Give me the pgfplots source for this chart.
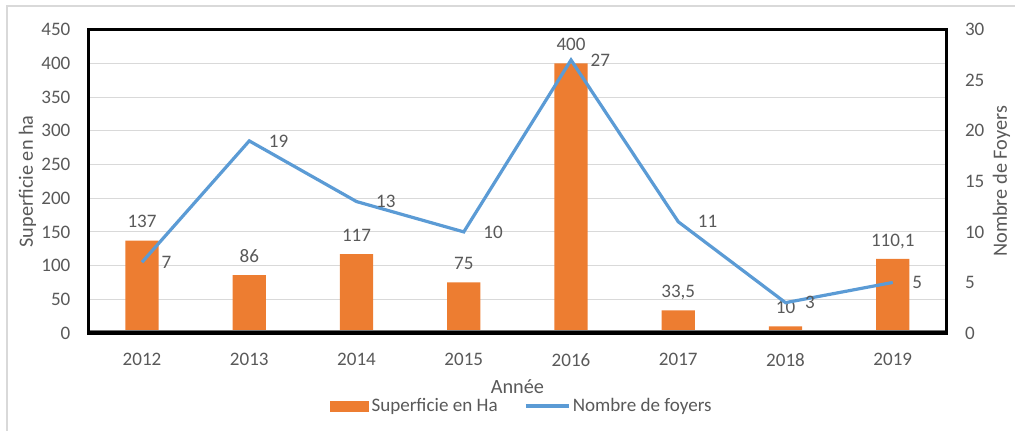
\documentclass[border=0pt]{standalone}
\usepackage{pgfplots}
\pgfplotsset{compat=1.18}
\usepackage{fontspec}
\setmainfont{Carlito}
\definecolor{barorange}{HTML}{ED7D31}
\definecolor{lineblue}{HTML}{5B9BD5}
\definecolor{txtgray}{HTML}{595959}
\definecolor{gridgray}{HTML}{D9D9D9}

\begin{document}
\begin{tikzpicture}[font=\fontsize{14}{17}\selectfont]
\pgfplotsset{
  base/.style={
    width=643.5pt, height=227.5pt, scale only axis,
    xmin=-0.5, xmax=7.5,
    major tick length=0pt,
    tick label style={txtgray, inner sep=0pt, font=\fontsize{14.3}{17}\selectfont},
    label style={txtgray, font=\fontsize{15.2}{18}\selectfont},
    /pgf/number format/assume math mode=true,
  },
}
% fixed page size and the outer frame (left and top edges only)
\useasboundingbox (-66.3pt,-72.75pt) rectangle (694.95pt,249.75pt);
\draw[gridgray, line width=1.5pt] (-60.7pt,-80pt) -- (-60.7pt,245.25pt) -- (700pt,245.25pt);

% bars, left axis
\begin{axis}[base,
  ymin=0, ymax=450, ytick={0,50,...,450},
  ymajorgrids, grid style={gridgray, line width=0.75pt},
  axis line style={draw=none},
  xtick={0,...,7},
  xticklabels={2012,2013,2014,2015,2016,2017,2018,2019},
  yticklabel style={xshift=-13.3pt},
  xticklabel style={yshift=-15pt},
  ylabel={Superficie en ha},
  ylabel style={at={(axis description cs:-0.0646,0.5)}, anchor=base},
  xlabel={Année},
  xlabel style={at={(axis description cs:0.5,-0.1978)}, anchor=base},
  ybar, bar width=0.31,
  nodes near coords, point meta=explicit symbolic,
  nodes near coords style={txtgray, anchor=base, yshift=9.5pt, inner sep=0pt,
    font=\fontsize{14.3}{17}\selectfont},
]
\addplot[fill=barorange, draw=none] coordinates {
  (0,137) [137]
  (1,86) [86]
  (2,117) [117]
  (3,75) [75]
  (4,400) [400]
  (5,33.5) [{33,5}]
  (6,10) [10]
  (7,110.1) [{110,1}]
};
\draw[color=black!55, line width=1.2pt] ([yshift=1.9pt]axis cs:-0.5,0) -- ([yshift=1.9pt]axis cs:7.5,0);
\end{axis}

% line, right axis, frame
\begin{axis}[base,
  ymin=0, ymax=30, ytick={0,5,...,30},
  xtick=\empty,
  yticklabel pos=right,
  axis line style={black, line width=2.6pt},
  yticklabel style={xshift=13.8pt},
  ylabel={Nombre de Foyers},
  ylabel style={at={(axis description cs:1.0704,0.5)}, anchor=base},
  nodes near coords, point meta=explicit symbolic,
  nodes near coords style={txtgray, anchor=west, xshift=13.5pt, inner sep=0pt,
    font=\fontsize{14.3}{17}\selectfont},
  legend style={at={(0.5053,-0.2407)}, anchor=center, draw=none, fill=none,
    legend columns=2, text=txtgray, font=\fontsize{14.3}{17}\selectfont,
    /tikz/every even column/.append style={column sep=18pt}},
  legend cell align=left,
]
\addlegendimage{legend image code/.code={\fill[barorange] (0pt,-3.75pt) rectangle (29pt,3.75pt);}}
\addlegendentry{Superficie en Ha}
\addplot[lineblue, line width=2.4pt, mark=none,
  legend image code/.code={\draw[lineblue, line width=2.4pt] (0pt,0pt) -- (32pt,0pt);}]
  coordinates {
  (0,7) [7]
  (1,19) [19]
  (2,13) [13]
  (3,10) [10]
  (4,27) [27]
  (5,11) [11]
  (6,3) [3]
  (7,5) [5]
};
\addlegendentry{Nombre de foyers}
\end{axis}
\end{tikzpicture}
\end{document}
